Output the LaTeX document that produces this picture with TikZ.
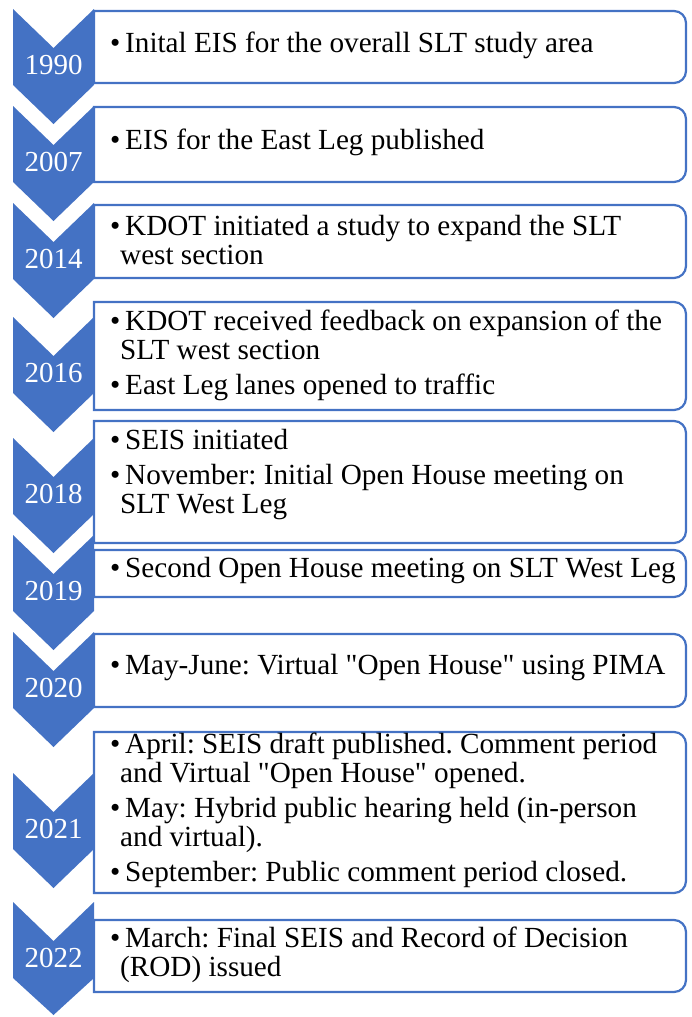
\documentclass[tikz,border=0pt]{standalone}
\usepackage{fontspec}
\setmainfont{Liberation Serif}
\definecolor{chevblue}{HTML}{4472C4}
\newcommand{\bul}{\makebox[15pt][l]{\textbullet}}
\newcommand{\cont}{\hspace*{10pt}}
\frenchspacing
\begin{document}
\begin{tikzpicture}[x=1pt, y=-1pt,
          chevron/.style = {fill=chevblue, draw=none},
          yearlabel/.style = {text=white, inner sep=0pt, font=\fontsize{29}{31}\selectfont},
          eventbox/.style = {draw=chevblue, line width=2.2pt, rounded corners=12pt, line cap=rect},
          eventtext/.style = {anchor=west, align=left, inner sep=0pt, font=\fontsize{29.2}{29}\selectfont}]
          \useasboundingbox (0,0) rectangle (692,1017);
          % chevrons
          \fill[chevron] (13,9) -- ++(40.5,39) -- ++(40.5,-39) -- ++(0,76) -- ++(-40.5,39) -- ++(-40.5,-39) -- cycle;
          \fill[chevron] (13,106) -- ++(40.5,39) -- ++(40.5,-39) -- ++(0,76) -- ++(-40.5,39) -- ++(-40.5,-39) -- cycle;
          \fill[chevron] (13,203) -- ++(40.5,39) -- ++(40.5,-39) -- ++(0,76) -- ++(-40.5,39) -- ++(-40.5,-39) -- cycle;
          \fill[chevron] (13,317) -- ++(40.5,39) -- ++(40.5,-39) -- ++(0,76) -- ++(-40.5,39) -- ++(-40.5,-39) -- cycle;
          \fill[chevron] (13,438) -- ++(40.5,39) -- ++(40.5,-39) -- ++(0,76) -- ++(-40.5,39) -- ++(-40.5,-39) -- cycle;
          \fill[chevron] (13,535) -- ++(40.5,39) -- ++(40.5,-39) -- ++(0,76) -- ++(-40.5,39) -- ++(-40.5,-39) -- cycle;
          \fill[chevron] (13,632) -- ++(40.5,39) -- ++(40.5,-39) -- ++(0,76) -- ++(-40.5,39) -- ++(-40.5,-39) -- cycle;
          \fill[chevron] (13,773) -- ++(40.5,39) -- ++(40.5,-39) -- ++(0,76) -- ++(-40.5,39) -- ++(-40.5,-39) -- cycle;
          \fill[chevron] (13,902) -- ++(40.5,39) -- ++(40.5,-39) -- ++(0,76) -- ++(-40.5,37) -- ++(-40.5,-37) -- cycle;
          \node[yearlabel] (y1990) at (53.5,65) {1990};
          \node[yearlabel] (y2007) at (53.5,162) {2007};
          \node[yearlabel] (y2014) at (53.5,259) {2014};
          \node[yearlabel] (y2016) at (53.5,373) {2016};
          \node[yearlabel] (y2018) at (53.5,494) {2018};
          \node[yearlabel] (y2019) at (53.5,591) {2019};
          \node[yearlabel] (y2020) at (53.5,688) {2020};
          \node[yearlabel] (y2021) at (53.5,829) {2021};
          \node[yearlabel] (y2022) at (53.5,958) {2022};
          % boxes
          \draw[eventbox] (94,11) -- (686,11) -- (686,83) -- (94,83) (94,11) -- (94,83);
          \draw[eventbox] (94,107) -- (686,107) -- (686,182) -- (94,182) (94,107) -- (94,182);
          \draw[eventbox] (94,205) -- (686,205) -- (686,278) -- (94,278) (94,205) -- (94,278);
          \draw[eventbox] (94,302) -- (686,302) -- (686,410) -- (94,410) (94,302) -- (94,410);
          \draw[eventbox] (94,421) -- (686,421) -- (686,543) -- (94,543) (94,421) -- (94,543);
          \draw[eventbox] (94,550) -- (686,550) -- (686,597) -- (94,597) (94,550) -- (94,597);
          \draw[eventbox] (94,634) -- (686,634) -- (686,707) -- (94,707) (94,634) -- (94,707);
          \draw[eventbox] (94,732) -- (686,732) -- (686,893) -- (94,893) (94,732) -- (94,893);
          \draw[eventbox] (94,920) -- (686,920) -- (686,992) -- (94,992) (94,920) -- (94,992);
          % texts
          \node[eventtext] (e1990) at (110,45) {\bul Inital EIS for the overall SLT study area};
          \node[eventtext] (e2007) at (110,142) {\bul EIS for the East Leg published};
          \node[eventtext] (e2014) at (110,240) {\bul KDOT initiated a study to expand the SLT\\ \cont west section};
          \node[eventtext] (e2016) at (110,355) {\bul KDOT received feedback on expansion of the\\ \cont SLT west section\\[6pt] \bul East Leg lanes opened to traffic};
          \node[eventtext] (e2018) at (110,475) {\bul SEIS initiated\\[6pt] \bul November: Initial Open House meeting on\\ \cont SLT West Leg};
          \node[eventtext] (e2019) at (110,571) {\bul Second Open House meeting on SLT West Leg};
          \node[eventtext] (e2020) at (110,668) {\bul May-June: Virtual \textquotedbl Open House\textquotedbl{} using PIMA};
          \node[eventtext] (e2021) at (110,810) {\bul April: SEIS draft published. Comment period\\ \cont and Virtual \textquotedbl Open House\textquotedbl{} opened.\\[6pt] \bul May: Hybrid public hearing held (in-person\\ \cont and virtual).\\[6pt] \bul September: Public comment period closed.};
          \node[eventtext] (e2022) at (110,955) {\bul March: Final SEIS and Record of Decision\\ \cont (ROD) issued};
\end{tikzpicture}
\end{document}
